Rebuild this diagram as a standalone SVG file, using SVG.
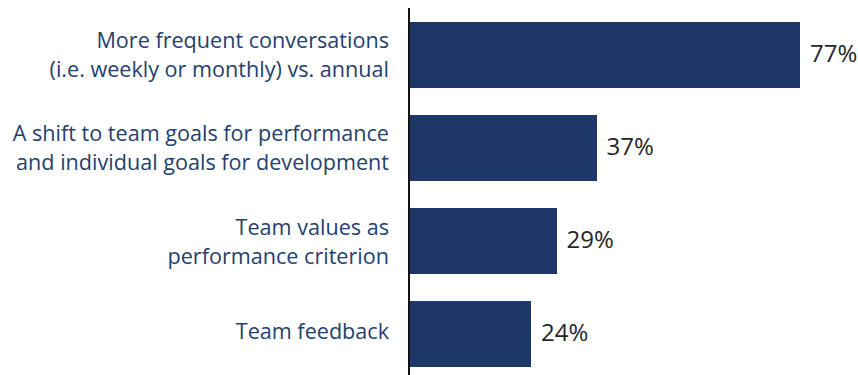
<svg xmlns="http://www.w3.org/2000/svg" width="858" height="375" viewBox="0 0 858 375">
<style>
.lbl{font-family:"Open Sans","Noto Sans",sans-serif;font-size:21.6px;fill:#253f6e;text-anchor:end}
.val{font-family:"Open Sans","Noto Sans",sans-serif;font-size:24px;fill:#262626}
.bar{fill:#1c3768}
</style>
<rect width="858" height="375" fill="#ffffff"/>
<g id="bar1"><rect class="bar" x="409" y="22" width="391" height="66"/>
<text class="lbl" x="389" y="47.5">More frequent conversations</text>
<text class="lbl" x="389" y="76.5">(i.e. weekly or monthly) vs. annual</text>
<text class="val" x="810" y="62">77%</text></g>
<g id="bar2"><rect class="bar" x="409" y="115" width="188" height="66"/>
<text class="lbl" x="389" y="140.5">A shift to team goals for performance</text>
<text class="lbl" x="389" y="169.5">and individual goals for development</text>
<text class="val" x="606.5" y="155">37%</text></g>
<g id="bar3"><rect class="bar" x="409" y="208" width="148" height="66"/>
<text class="lbl" x="389" y="234.5">Team values as</text>
<text class="lbl" x="389" y="263.5">performance criterion</text>
<text class="val" x="566.5" y="247.5">29%</text></g>
<g id="bar4"><rect class="bar" x="409" y="301" width="122" height="66"/>
<text class="lbl" x="389" y="338.5">Team feedback</text>
<text class="val" x="541" y="341">24%</text></g>
<g id="axis"><line x1="409" y1="8" x2="409" y2="375" stroke="#111111" stroke-width="2"/></g>
</svg>
